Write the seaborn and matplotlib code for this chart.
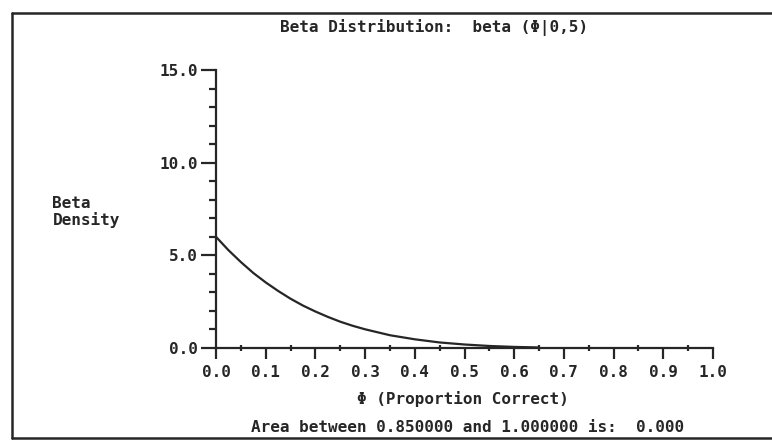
import numpy as np
import pandas as pd
import matplotlib
matplotlib.use('Agg')
import matplotlib.pyplot as plt
from matplotlib.lines import Line2D
from matplotlib.ticker import MultipleLocator
import seaborn as sns

# values
phi = [0.0, 0.025, 0.05, 0.075, 0.10, 0.125, 0.15, 0.175, 0.20, 0.225, 0.25,
       0.275, 0.30, 0.35, 0.40, 0.45, 0.50, 0.55, 0.60, 0.65]
density = [6.0, 5.28, 4.64, 4.05, 3.54, 3.08, 2.66, 2.29, 1.97, 1.68, 1.42,
           1.20, 1.01, 0.69, 0.47, 0.30, 0.19, 0.11, 0.06, 0.03]
x_ticks = [0.0, 0.1, 0.2, 0.3, 0.4, 0.5, 0.6, 0.7, 0.8, 0.9, 1.0]
y_ticks = [0.0, 5.0, 10.0, 15.0]

df = pd.DataFrame({'phi': phi, 'density': density})

sns.set_style("white")
plt.rcParams['font.family'] = ['DejaVu Sans Mono']
plt.rcParams['font.weight'] = 'bold'

ink = '#262626'
fs = 11.5

fig = plt.figure(figsize=(7.72, 4.43), dpi=100)
ax = fig.add_axes([0.2798, 0.2144, 0.6438, 0.6275])

sns.lineplot(data=df, x='phi', y='density', ax=ax, color=ink, linewidth=1.6)

ax.set_xlim(0, 1.0)
ax.set_ylim(0, 15.0)
ax.set_xticks(x_ticks)
ax.set_xticklabels([f'{v:.1f}' for v in x_ticks])
ax.set_yticks(y_ticks)
ax.set_yticklabels([f'{v:.1f}' for v in y_ticks])
ax.xaxis.set_minor_locator(MultipleLocator(0.05))
ax.yaxis.set_minor_locator(MultipleLocator(1.0))
ax.tick_params(axis='both', which='both', bottom=True, left=True, top=False, right=False)
ax.tick_params(axis='x', which='major', direction='out', length=8, width=1.6,
               color=ink, labelsize=fs, labelcolor=ink, pad=4)
ax.tick_params(axis='x', which='minor', direction='inout', length=5, width=1.6, color=ink)
ax.tick_params(axis='y', which='major', direction='out', length=11, width=1.6,
               color=ink, labelsize=fs, labelcolor=ink, pad=2)
ax.tick_params(axis='y', which='minor', direction='out', length=5, width=1.6, color=ink)
ax.set_xlabel('')
ax.set_ylabel('')

for side in ['top', 'right']:
    ax.spines[side].set_visible(False)
for side in ['left', 'bottom']:
    ax.spines[side].set_color(ink)
    ax.spines[side].set_linewidth(1.6)

fig.text(0.562, 0.937, 'Beta Distribution:  beta (Φ|0,5)', ha='center', va='center',
         fontsize=fs, color=ink)
fig.text(0.068, 0.522, 'Beta\nDensity', ha='left', va='center', fontsize=fs,
         color=ink, linespacing=1.05)
fig.text(0.600, 0.100, 'Φ (Proportion Correct)', ha='center', va='center',
         fontsize=fs, color=ink)
fig.text(0.606, 0.036, 'Area between 0.850000 and 1.000000 is:  0.000',
         ha='center', va='center', fontsize=fs, color=ink)

# frame around the whole picture
fig.add_artist(Line2D([0.015, 1.0], [0.971, 0.971], color=ink, linewidth=1.8))
fig.add_artist(Line2D([0.015, 0.015], [0.971, 0.011], color=ink, linewidth=1.8))
fig.add_artist(Line2D([0.015, 1.0], [0.011, 0.011], color=ink, linewidth=1.8))

fig.savefig('out.png', dpi=100)
